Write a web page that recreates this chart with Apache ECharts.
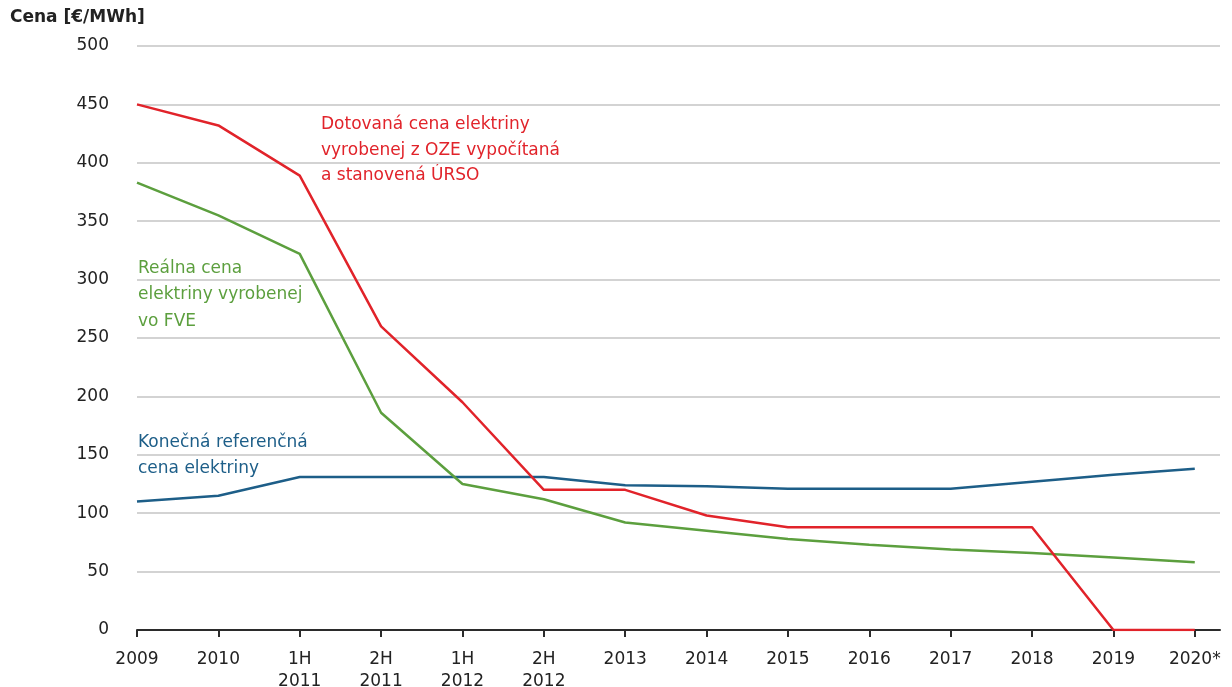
<!DOCTYPE html>
<html>
<head>
<meta charset="utf-8">
<script src="https://cdn.jsdelivr.net/npm/echarts@6/dist/echarts.min.js"></script>
<style>
  html, body { margin: 0; padding: 0; background: #fff; }
  #chart { width: 1232px; height: 687px; }
</style>
</head>
<body>
<div id="chart"></div>
<script>
// Period labels on the horizontal axis
const periods = ['2009', '2010', '1H\n2011', '2H\n2011', '1H\n2012', '2H\n2012',
  '2013', '2014', '2015', '2016', '2017', '2018', '2019', '2020*'];

// Subsidised price of electricity from renewables (ÚRSO), €/MWh
const subsidisedPrice = [450, 432, 389, 260, 195, 120, 120, 98, 88, 88, 88, 88, 0, 0];
// Real price of electricity produced in PV plants, €/MWh
const realPvPrice = [383, 355, 322, 186, 125, 112, 92, 85, 78, 73, 69, 66, 62, 58];
// Final reference electricity price, €/MWh
const referencePrice = [110, 115, 131, 131, 131, 131, 124, 123, 121, 121, 121, 127, 133, 138];

const yTicks = [0, 50, 100, 150, 200, 250, 300, 350, 400, 450, 500];

const FONT = '"DejaVu Sans", "Liberation Sans", sans-serif';
const RED = '#e1232a';
const GREEN = '#5c9f3e';
const BLUE = '#1d5e88';

const toPairs = arr => arr.map((v, i) => [i, v]);
const idx = periods.map((_, i) => i);

const chart = echarts.init(document.getElementById('chart'));
chart.setOption({
  animation: false,
  backgroundColor: '#fff',
  grid: { left: 137, right: 12, top: 46, bottom: 57, containLabel: false, outerBoundsMode: 'none' },
  xAxis: {
    type: 'value',
    min: 0,
    max: 13.31,
    axisLine: { show: true, lineStyle: { color: '#2b2b2b', width: 2 } },
    axisTick: { show: true, customValues: idx, length: 7, lineStyle: { color: '#2b2b2b', width: 2 } },
    axisLabel: {
      customValues: idx,
      formatter: v => periods[Math.round(v)] || '',
      color: '#222',
      fontFamily: FONT,
      fontSize: 17,
      lineHeight: 22,
      margin: 19
    },
    splitLine: { show: false }
  },
  yAxis: {
    type: 'value',
    min: 0,
    max: 500,
    interval: 50,
    axisLine: { show: false },
    axisTick: { show: false },
    axisLabel: {
      color: '#222',
      fontFamily: FONT,
      fontSize: 17,
      margin: 28,
      formatter: v => yTicks.includes(v) ? String(v) : ''
    },
    splitLine: { show: true, lineStyle: { color: '#d3d3d3', width: 2 } }
  },
  series: [
    {
      name: 'Konečná referenčná cena elektriny',
      type: 'line',
      data: toPairs(referencePrice),
      showSymbol: false,
      lineStyle: { color: BLUE, width: 2.5 },
      z: 3
    },
    {
      name: 'Reálna cena elektriny vyrobenej vo FVE',
      type: 'line',
      data: toPairs(realPvPrice),
      showSymbol: false,
      lineStyle: { color: GREEN, width: 2.5 },
      z: 4
    },
    {
      name: 'Dotovaná cena elektriny',
      type: 'line',
      data: toPairs(subsidisedPrice),
      showSymbol: false,
      lineStyle: { color: RED, width: 2.5 },
      z: 5
    }
  ],
  graphic: [
    {
      type: 'text', left: 10, top: 9,
      style: { text: 'Cena [€/MWh]', fill: '#222', font: 'bold 17px ' + FONT }
    },
    {
      type: 'text', left: 321, top: 112,
      style: {
        text: 'Dotovaná cena elektriny\nvyrobenej z OZE vypočítaná\na stanovená ÚRSO',
        fill: RED, font: '17px ' + FONT, lineHeight: 25.5
      }
    },
    {
      type: 'text', left: 138, top: 255,
      style: {
        text: 'Reálna cena\nelektriny vyrobenej\nvo FVE',
        fill: GREEN, font: '17px ' + FONT, lineHeight: 26.5
      }
    },
    {
      type: 'text', left: 138, top: 430,
      style: {
        text: 'Konečná referenčná\ncena elektriny',
        fill: BLUE, font: '17px ' + FONT, lineHeight: 25.5
      }
    }
  ]
});
</script>
</body>
</html>
